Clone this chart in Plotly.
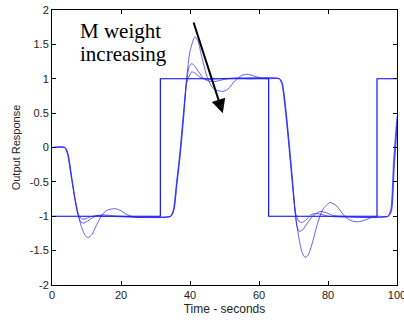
import plotly.graph_objects as go

# Setpoint (reference square wave)
ref_t = [0, 31.4, 62.8, 94.2, 100]
ref_y = [-1, 1, -1, 1, 1]

# Output response, low M weight (largest overshoot)
a_t = [0, 3.6, 4.5, 5.5, 6.5, 7.5, 8.5, 9.5, 10.4, 11.5, 13, 14.5, 16, 18.3, 20, 21.5, 23, 25, 28, 34.3,
       35.2, 36, 37, 38, 39, 40, 41.4, 42.3, 43.5, 45, 46.5, 48, 49.5, 51, 53, 55, 56.8, 58.5, 60.5, 62.5, 65.8,
       66.6, 67.5, 68.5, 69.5, 70.5, 71.5, 72.5, 73.4, 74.3, 75.5, 77, 78.5, 80.6, 82.5, 84, 85.5, 87, 88.8,
       90.5, 92.5, 94.5, 97.3, 98.2, 99.0, 99.5, 100]
a_y = [0, 0, -0.1, -0.4, -0.7, -0.95, -1.15, -1.27, -1.31, -1.27, -1.12, -0.98, -0.91, -0.89, -0.92, -0.97, -1.0, -1.02, -1.01, -1.0,
       -0.9, -0.55, -0.1, 0.45, 1.0, 1.4, 1.61, 1.55, 1.3, 1.02, 0.87, 0.83, 0.815, 0.85, 0.97, 1.05, 1.065, 1.04, 1.01, 1.0, 1.0,
       0.93, 0.6, 0.1, -0.45, -0.95, -1.3, -1.53, -1.6, -1.56, -1.38, -1.1, -0.9, -0.8, -0.85, -0.95, -1.03, -1.07, -1.08,
       -1.06, -1.02, -1.0, -1.0, -0.9, -0.2, 0.15, 0.45]

# Output response, medium M weight
b_t = [0, 3.7, 4.6, 5.6, 6.6, 7.5, 8.3, 9.1, 10, 11.5, 13, 14.9, 17, 20, 34.4,
       35.3, 36.1, 37.1, 38.1, 39, 39.8, 40.5, 41.3, 42.5, 44, 45.5, 47.2, 49, 51, 54, 57, 65.9,
       66.7, 67.6, 68.6, 69.6, 70.5, 71.0, 71.7, 72.6, 74, 75.5, 77.7, 79.5, 81.5, 84, 97.4, 98.3, 99.1, 99.6, 100]
b_y = [0, 0, -0.1, -0.42, -0.75, -0.98, -1.08, -1.1, -1.08, -1.03, -0.99, -0.98, -0.99, -1.0, -1.0,
       -0.9, -0.55, -0.1, 0.45, 0.95, 1.18, 1.22, 1.19, 1.1, 1.0, 0.965, 0.96, 0.98, 1.0, 1.01, 1.0, 1.0,
       0.93, 0.6, 0.1, -0.45, -0.95, -1.15, -1.22, -1.2, -1.1, -1.0, -0.93, -0.95, -0.99, -1.0, -1.0, -0.92, -0.25, 0.1, 0.38]

# Output response, high M weight (smallest overshoot)
c_t = [0, 3.8, 4.7, 5.7, 6.7, 7.6, 8.6, 9.5, 11, 13, 16, 34.5,
       35.4, 36.2, 37.2, 38.2, 39.1, 40.5, 41.5, 43, 45, 48, 66.0,
       66.8, 67.7, 68.7, 69.7, 70.6, 71.5, 72.4, 73.5, 75, 76.3, 78, 80, 97.5, 98.4, 99.2, 99.7, 100]
c_y = [0, 0, -0.1, -0.42, -0.75, -0.97, -1.04, -1.04, -1.01, -0.99, -1.0, -1.0,
       -0.9, -0.55, -0.1, 0.45, 0.95, 1.1, 1.08, 1.02, 0.99, 1.0, 1.0,
       0.93, 0.6, 0.1, -0.45, -0.95, -1.07, -1.09, -1.06, -0.98, -0.96, -0.97, -1.0, -1.0, -0.93, -0.3, 0.05, 0.3]

x_ticks = [0, 20, 40, 60, 80, 100]
y_ticks = [-2, -1.5, -1, -0.5, 0, 0.5, 1, 1.5, 2]
y_tick_text = ["-2", "-1.5", "-1", "-0.5", "0", "0.5", "1", "1.5", "2"]

fig = go.Figure()
fig.add_trace(go.Scatter(x=ref_t, y=ref_y, mode="lines", line=dict(color="#0000ff", width=1.1, shape="hv"),
                         showlegend=False))
for t, y in [(c_t, c_y), (b_t, b_y), (a_t, a_y)]:
    fig.add_trace(go.Scatter(x=t, y=y, mode="lines",
                             line=dict(color="rgba(30,30,255,0.7)", width=1.0, shape="spline", smoothing=0.6),
                             showlegend=False))

serif = "Liberation Serif, Times New Roman, serif"
fig.add_annotation(x=7.6, y=1.70, xref="x", yref="y", text="M weight", showarrow=False,
                   xanchor="left", yanchor="middle", font=dict(family=serif, size=21, color="black"))
fig.add_annotation(x=7.6, y=1.354, xref="x", yref="y", text="increasing", showarrow=False,
                   xanchor="left", yanchor="middle", font=dict(family=serif, size=21, color="black"))
fig.add_annotation(x=49.5, y=0.50, ax=40.9, ay=1.84, xref="x", yref="y", axref="x", ayref="y",
                   text="", showarrow=True, arrowhead=2, arrowsize=1.4, arrowwidth=2, arrowcolor="black",
                   standoff=0)

axis_font = dict(family="Liberation Sans, Arial, sans-serif", size=11, color="#222")
fig.update_xaxes(range=[0, 100], tickvals=x_ticks, ticks="inside", ticklen=4, tickcolor="black",
                 showline=True, linecolor="black", linewidth=1, mirror="ticks", showgrid=False, zeroline=False,
                 tickfont=axis_font, ticklabeloverflow="allow",
                 title=dict(text="Time - seconds", font=dict(family="Liberation Sans, Arial, sans-serif", size=12, color="#222"), standoff=4))
fig.update_yaxes(range=[-2, 2], tickvals=y_ticks, ticktext=y_tick_text, ticks="inside", ticklen=4, tickcolor="black",
                 showline=True, linecolor="black", linewidth=1, mirror="ticks", showgrid=False, zeroline=False,
                 tickfont=axis_font,
                 title=dict(text="Output Response", font=dict(family="Liberation Sans, Arial, sans-serif", size=11, color="#222"), standoff=6))
fig.update_layout(width=404, height=320, margin=dict(l=52, r=7, t=10, b=35, autoexpand=False),
                  plot_bgcolor="white", paper_bgcolor="white")
fig.write_html("out.html", config={"displayModeBar": False},
               post_script="document.body.style.margin='0';document.body.style.padding='0';")
